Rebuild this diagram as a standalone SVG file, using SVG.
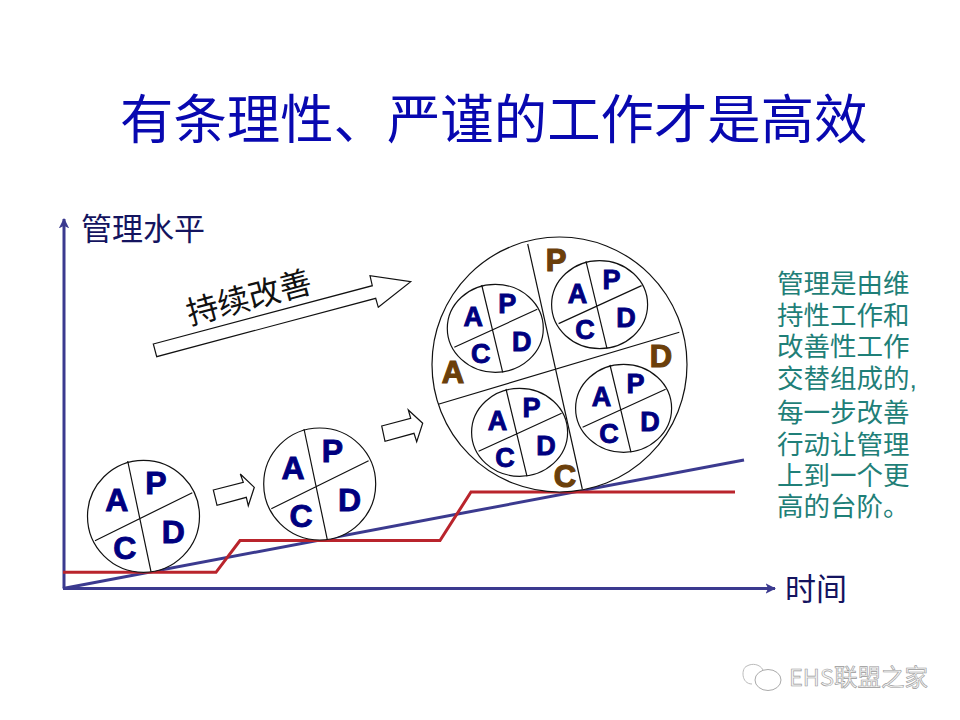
<svg xmlns="http://www.w3.org/2000/svg" width="960" height="720" viewBox="0 0 960 720">
<style>
.cjk{font-family:"Noto Sans CJK SC","Liberation Sans",sans-serif}
.ln{fill:none;stroke:#111;stroke-width:1.2}
.wh{fill:#fff;stroke:#111;stroke-width:1.2}
.l{font-family:"Liberation Sans",Arial,sans-serif;font-weight:bold;fill:#00007f;stroke:#00007f;stroke-width:0.9;text-anchor:middle;dominant-baseline:central}
.s{font-size:27px}
.m{font-size:32px}
.b{font-family:"Liberation Sans",Arial,sans-serif;font-weight:bold;fill:#6b3f0a;text-anchor:middle;dominant-baseline:central;font-size:31px;stroke:#6b3f0a;stroke-width:1.2}
.side{font-family:"Liberation Sans","Noto Sans CJK SC",sans-serif;font-size:26.5px;fill:#1f7f78}
.ax{fill:none;stroke:#3b3a8f;stroke-width:3}
.red{fill:none;stroke:#b9242c;stroke-width:3}
</style>
<defs>
<marker id="ah" viewBox="0 0 10 10" refX="9" refY="5" markerWidth="3.5" markerHeight="3.500" orient="auto" markerUnits="strokeWidth"><path d="M0 0L10 5L0 10L2.5 5Z" fill="#3b3a8f"/></marker>
</defs>
<rect width="960" height="720" fill="#fff"/>
<text id="title" class="cjk" x="120" y="139" font-size="53.4" fill="#0808b0">有条理性、严谨的工作才是高效</text>

<g id="connectors">
<path class="ax" d="M64 588.5V219" marker-end="url(#ah)"/>
<path class="ax" d="M63 588.500H775" marker-end="url(#ah)"/>
<path class="ax" d="M63 588.500L744 460"/>
<path class="red" d="M63 572.3H216L240 540.500H440L471 492H735"/>
</g>

<text id="y-label" class="cjk" x="81" y="240" font-size="31" fill="#14145f">管理水平</text>
<text id="x-label" class="cjk" x="785" y="600" font-size="31" fill="#14145f">时间</text>

<g id="improve-arrow">
<polygon class="wh" points="153.3,344 372.3,285.7 370,275.7 410.7,281.7 378.3,307.3 375.7,298.3 156.7,356.7"/>
<text class="cjk" x="0" y="0" font-size="32" fill="#111" transform="translate(190,325) rotate(-15)">持续改善</text>
</g>
<polygon id="step-arrow-1" class="wh" points="213.3,490 243.3,482.3 240.3,474 254.3,487.3 248.3,505.7 246.3,497.3 217,505.3"/>
<polygon id="step-arrow-2" class="wh" points="381.7,426 410.7,418.3 408.3,410 422.7,423.3 416.7,441.7 414,433.3 385,441.3"/>

<g id="pdca-1">
<circle class="wh" cx="143.5" cy="516.3" r="56"/>
<path class="ln" d="M127.7 461L151 571.7M95 540.7L192.3 492.7"/>
<text class="l m" x="116.7" y="500">A</text><text class="l m" x="156" y="483.3">P</text><text class="l m" x="124.7" y="548.3">C</text><text class="l m" x="173.3" y="531.7">D</text>
</g>
<g id="pdca-2">
<circle class="wh" cx="319.7" cy="484" r="56"/>
<path class="ln" d="M304 429L327.3 539.7M271.3 508.7L368.6 460.7"/>
<text class="l m" x="293" y="468">A</text><text class="l m" x="332.3" y="451.3">P</text><text class="l m" x="301" y="516.3">C</text><text class="l m" x="349.6" y="499.7">D</text>
</g>

<g id="pdca-big">
<circle class="wh" cx="559.5" cy="364.5" r="127.5"/>
<path class="ln" d="M527.7 244L582.3 489M438.3 404.3L679.3 332.3"/>
<text class="b" x="556" y="260">P</text><text class="b" x="453" y="372">A</text><text class="b" x="565" y="476">C</text><text class="b" x="661" y="356">D</text>
</g>
<g id="pdca-a">
<ellipse class="wh" cx="495.3" cy="328.3" rx="48" ry="44"/>
<path class="ln" d="M481.7 285L502.7 372.3M454.3 347.3L537.3 309.3"/>
<text class="l s" x="473.3" y="317.3">A</text><text class="l s" x="507.3" y="304">P</text><text class="l s" x="480.7" y="354">C</text><text class="l s" x="521.7" y="341.7">D</text>
</g>
<g id="pdca-p" transform="translate(104.3,-23.7)">
<ellipse class="wh" cx="495.3" cy="328.3" rx="48" ry="44"/>
<path class="ln" d="M481.7 285L502.7 372.3M454.3 347.3L537.3 309.3"/>
<text class="l s" x="473.3" y="317.3">A</text><text class="l s" x="507.3" y="304">P</text><text class="l s" x="480.7" y="354">C</text><text class="l s" x="521.7" y="341.7">D</text>
</g>
<g id="pdca-d" transform="translate(128.3,80)">
<ellipse class="wh" cx="495.3" cy="328.3" rx="48" ry="44"/>
<path class="ln" d="M481.7 285L502.7 372.3M454.3 347.3L537.3 309.3"/>
<text class="l s" x="473.3" y="317.3">A</text><text class="l s" x="507.3" y="304">P</text><text class="l s" x="480.7" y="354">C</text><text class="l s" x="521.7" y="341.7">D</text>
</g>
<g id="pdca-c" transform="translate(24.3,104)">
<ellipse class="wh" cx="495.3" cy="328.3" rx="48" ry="44"/>
<path class="ln" d="M481.7 285L502.7 372.3M454.3 347.3L537.3 309.3"/>
<text class="l s" x="473.3" y="317.3">A</text><text class="l s" x="507.3" y="304">P</text><text class="l s" x="480.7" y="354">C</text><text class="l s" x="521.7" y="341.7">D</text>
</g>

<g id="side-note" class="side">
<text x="777" y="293">管理是由维</text>
<text x="777" y="325">持性工作和</text>
<text x="777" y="356">改善性工作</text>
<text x="777" y="388">交替组成的,</text>
<text x="777" y="422">每一步改善</text>
<text x="777" y="454">行动让管理</text>
<text x="777" y="485">上到一个更</text>
<text x="777" y="516">高的台阶。</text>
</g>

<g id="watermark">
<path d="M752 684C741 684 741 668 747 666C752 663 760 664 763 670" fill="none" stroke="#bbb" stroke-width="1"/>
<ellipse cx="768" cy="680" rx="13" ry="10.500" fill="#fff" stroke="#aaa" stroke-width="1"/>
<text class="cjk" x="789" y="686" font-size="23.500" fill="#f4f4f4" stroke="#999" stroke-width="0.6">EHS联盟之家</text>
</g>
</svg>
